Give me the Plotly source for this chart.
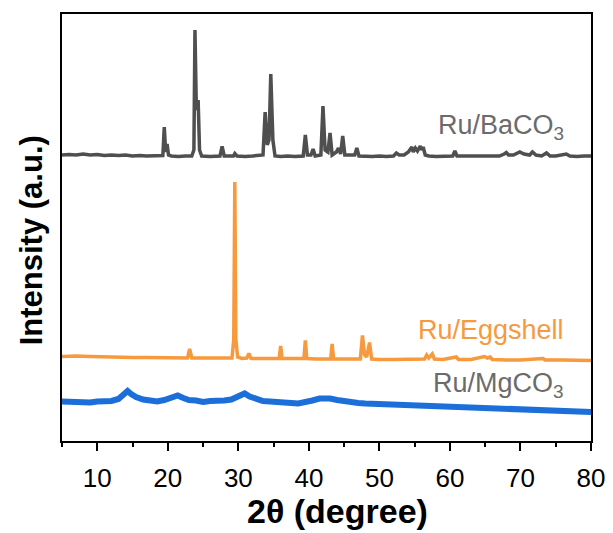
import plotly.graph_objects as go

# ---- data (2θ in degree, intensity in a.u., stacked) ----
baco3_x = [5.0, 6, 7, 8, 9, 10, 11, 12, 13, 14, 15, 16, 17, 18, 19, 19.3, 19.5, 19.7, 19.9, 20.1,
           20.5, 21.5, 22.5, 23.4, 23.7, 23.85, 24.05, 24.3, 24.5, 24.8, 26, 27.4, 27.7, 28.0,
           29.3, 29.5, 29.8, 31, 32, 33.5, 33.8, 34.1, 34.35, 34.6, 34.9, 35.2, 36, 37, 38,
           39.2, 39.5, 39.8, 40.3, 40.6, 40.9, 41.7, 42.0, 42.3, 42.7, 43.0, 43.3, 43.9, 44.2,
           44.5, 44.8, 45.1, 46.5, 46.8, 47.1, 48, 49, 50, 51, 52, 52.4, 52.8, 53.5, 54.1, 54.6,
           54.8, 55.1, 55.4, 55.8, 56.0, 56.2, 56.5, 57, 58, 59, 60.4, 60.7, 61.0, 62, 63, 64,
           65, 66, 67, 67.7, 68.0, 68.3, 69, 69.9, 70.5, 71.3, 71.7, 72.2, 73, 73.7, 74.2, 75,
           76.5, 77, 78, 79, 80]
baco3_y = [286, 286.5, 286, 287, 286, 286.5, 285.5, 286, 285.5, 286, 285, 285.5, 285, 285, 285,
           285.5, 314, 289, 297, 286, 285, 284.5, 285, 285, 291, 411, 331, 341, 291, 285, 284.5,
           285, 294.5, 285, 285, 287.5, 285, 284.5, 285, 286, 329, 296, 301, 367, 301, 285,
           284.5, 285, 284.5, 285, 306, 286, 286, 292, 285, 286, 335, 291, 289, 308, 286, 289,
           293, 287, 305, 286, 286, 293, 285, 284.5, 284.5, 285, 284.5, 285, 288, 286, 286, 289,
           294, 289, 293, 290, 295, 291, 294, 286, 285, 284.5, 285, 285, 290, 285, 285, 285,
           284.5, 285, 284.5, 285, 287, 288.5, 286, 286, 289, 287, 286, 289, 286, 285, 288, 285,
           285, 287, 285, 284.5, 285, 285]

egg_x = [5, 7, 9, 11, 13, 15, 17, 19, 21, 22.8, 23.1, 23.4, 25, 27, 29.1, 29.35, 29.5, 29.65,
         29.9, 30.5, 31.2, 31.5, 31.8, 33, 35, 35.8, 36.0, 36.2, 38, 39.3, 39.5, 39.7, 41, 43.1,
         43.3, 43.5, 45, 47.3, 47.6, 47.9, 48.2, 48.6, 48.9, 50, 52, 54, 56.4, 56.7, 57.0, 57.5,
         57.8, 59, 60.9, 61.2, 63, 64.9, 65.3, 65.7, 66, 68, 70, 73.2, 73.5, 76, 78, 80]
egg_y = [84.5, 85, 84.5, 84, 84, 83.5, 83.5, 83.5, 83, 83, 92, 83, 83, 83, 83, 101, 259, 101,
         84, 82.5, 83, 87.5, 82.5, 82.5, 82.5, 82.5, 95, 82.5, 82.5, 82.5, 100.5, 82.5, 82, 82,
         97, 82, 82, 82, 105.5, 86, 84, 98.5, 82, 81.5, 81.5, 81.5, 82, 86, 83, 87, 82, 81.5, 84,
         81.5, 81.5, 84.5, 83, 84, 81.5, 81, 81, 82.5, 81, 81, 80.5, 80.5]

mg_x = [5, 6, 7, 8, 9, 10, 11, 12, 13, 13.8, 14.3, 14.8, 15.5, 16.5, 17.5, 18.5, 19.5, 20.5,
        21.4, 22.2, 23, 24, 25, 26, 27, 28, 29, 30, 30.9, 31.6, 32.5, 33.5, 34.5, 35.5, 36.5,
        37.5, 38.5, 39.5, 40.5, 41.5, 42.0, 43.0, 44, 45, 46, 47, 48, 50, 52, 54, 56, 58, 60,
        62, 64, 66, 68, 70, 72, 74, 76, 78, 80]
mg_y = [39.5, 39, 40, 39.5, 38.5, 39.5, 39, 40, 42, 47, 50, 47, 44, 41.5, 40, 39.5, 41, 43,
        45.5, 43, 41, 40.5, 39, 40, 39.5, 40.5, 41.5, 44.5, 47.5, 44.5, 42, 40, 39.5, 38.5, 38,
        38, 37.5, 38.5, 40.5, 42.5, 43, 42.5, 41, 39.5, 38.5, 38, 37.5, 37, 36.5, 36, 35.5, 35,
        34.5, 33.5, 33, 32.5, 32, 31.5, 31, 30.5, 30, 29.5, 29]

x_ticks = [10, 20, 30, 40, 50, 60, 70, 80]
labels = ["Ru/BaCO<sub>3</sub>", "Ru/Eggshell", "Ru/MgCO<sub>3</sub>"]
x_title = "<b>2θ (degree)</b>"
y_title = "<b>Intensity (a.u.)</b>"

FONT = "Liberation Sans, Arial, sans-serif"
C_GRAY = "#4f4f4f"
C_ORANGE = "#F7993D"
C_BLUE = "#1C6FD9"
C_LABEL = "#6b6b6b"

fig = go.Figure()
fig.add_trace(go.Scatter(x=mg_x, y=mg_y, mode="lines",
                         line=dict(color=C_BLUE, width=6), showlegend=False))
fig.add_trace(go.Scatter(x=egg_x, y=egg_y, mode="lines",
                         line=dict(color=C_ORANGE, width=3.5), showlegend=False))
fig.add_trace(go.Scatter(x=baco3_x, y=baco3_y, mode="lines",
                         line=dict(color=C_GRAY, width=3.5), showlegend=False))

ann_y = [314, 111, 56]
ann_c = [C_LABEL, C_ORANGE, C_LABEL]
for t, yy, c in zip(labels, ann_y, ann_c):
    fig.add_annotation(x=0.952, xref="paper", y=yy, yref="y", text=t, showarrow=False,
                       xanchor="right", yanchor="middle",
                       font=dict(family=FONT, size=27, color=c))

# axis titles as annotations (placed like the reference)
fig.add_annotation(x=0.52, xref="paper", y=-0.165, yref="paper", text=x_title,
                   showarrow=False, xanchor="center", yanchor="middle",
                   font=dict(family=FONT, size=34, color="black"))
fig.add_annotation(x=-0.0586, xref="paper", y=0.47, yref="paper", text=y_title,
                   showarrow=False, xanchor="center", yanchor="middle", textangle=-90,
                   font=dict(family=FONT, size=31, color="black"))

fig.update_layout(
    width=613, height=533,
    margin=dict(l=62, r=22, t=14, b=92),
    paper_bgcolor="white", plot_bgcolor="white",
    font=dict(family=FONT, color="black"),
)
fig.update_xaxes(
    range=[5, 80], tickvals=x_ticks, ticks="outside", ticklen=8, tickwidth=1.5,
    tickcolor="black", showline=True, linecolor="black", linewidth=1.5, mirror=True,
    showgrid=False, zeroline=False, tickfont=dict(size=26, family=FONT, color="black"),
    ticklabelstandoff=5, automargin=False,
    minor=dict(dtick=5, tick0=5, ticks="outside", ticklen=4, tickwidth=1.5, tickcolor="black",
               showgrid=False),
)
fig.update_yaxes(
    range=[0, 427], showticklabels=False, ticks="", showline=True, linecolor="black",
    linewidth=1.5, mirror=True, showgrid=False, zeroline=False, automargin=False,
)

fig.write_html("out.html", config={"displayModeBar": False},
               post_script="document.body.style.margin='0';document.body.style.padding='0';")
